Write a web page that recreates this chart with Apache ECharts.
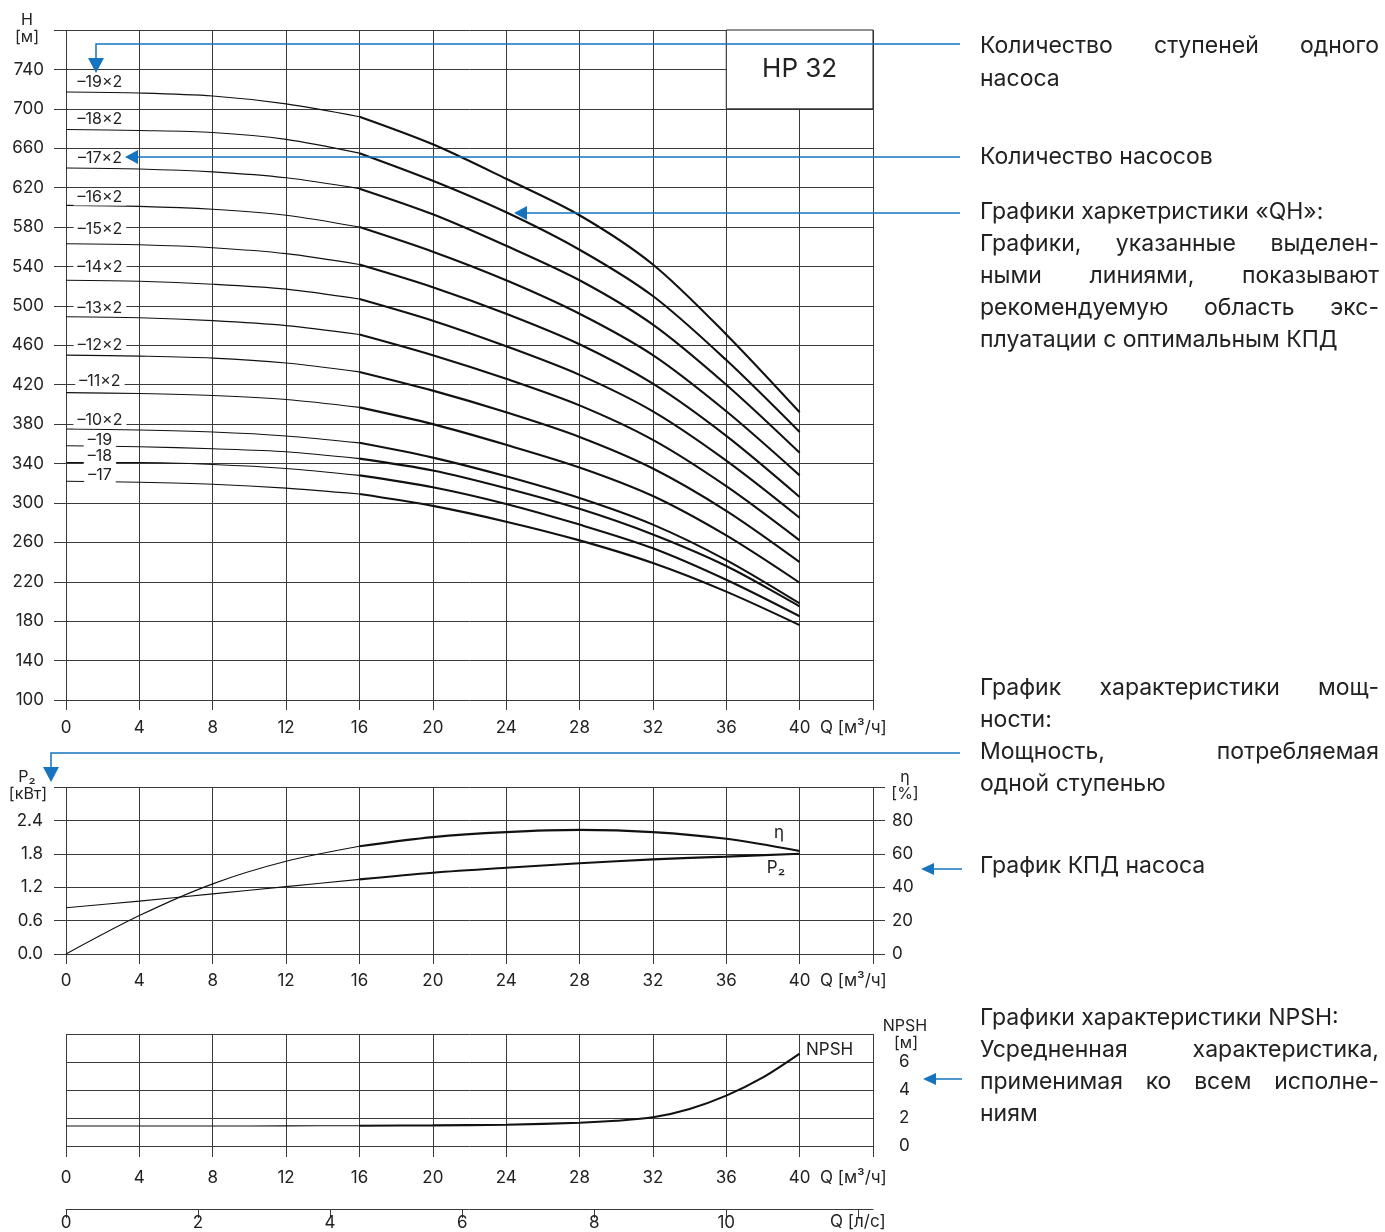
<!DOCTYPE html>
<html>
<head>
<meta charset="utf-8">
<script src="https://cdn.jsdelivr.net/npm/echarts@6/dist/echarts.min.js"></script>
<style>
  html, body { margin: 0; padding: 0; background: #fff; }
  #chart { width: 1385px; height: 1232px; }
</style>
</head>
<body>
<div id="chart"></div>
<script>
// flow points, m3/h
const flow = [0, 4, 8, 12, 16, 20, 24, 28, 32, 36, 40];

// QH curves, head in m (read from the sheet)
const head19x2 = [717, 716, 713, 705, 692, 664, 629, 592, 542, 471, 392];
const head18x2 = [679, 678, 676, 669, 655, 627, 595, 557, 510, 445, 372];
const head17x2 = [640, 639, 636, 630, 619, 593, 561, 526, 481, 420, 351];
const head16x2 = [602, 601, 598, 592, 580, 555, 526, 492, 450, 393, 328];
const head15x2 = [563, 562, 559, 553, 542, 519, 492, 461, 421, 368, 306];
const head14x2 = [526, 525, 522, 517, 507, 485, 459, 430, 393, 343, 285];
const head13x2 = [489, 488, 485, 480, 471, 450, 426, 399, 364, 317, 262];
const head12x2 = [450, 449, 447, 442, 433, 414, 392, 367, 335, 292, 240];
const head11x2 = [412, 411, 409, 405, 397, 380, 359, 336, 307, 267, 219];
const head10x2 = [375, 374, 372, 368, 361, 346, 327, 305, 278, 242, 198];
const head19 = [358, 357, 355, 352, 345, 333, 315, 294, 268, 236, 195];
const head18 = [341, 341, 339, 335, 328, 316, 299, 278, 254, 222, 185];
const head17 = [322, 321, 319, 315, 309, 297, 281, 262, 239, 210, 176];

const stageNames = ['–19×2', '–18×2', '–17×2', '–16×2', '–15×2', '–14×2', '–13×2',
                    '–12×2', '–11×2', '–10×2', '–19', '–18', '–17'];

// power per stage (kW) and efficiency (%)
const powerP2 = [0.83, 0.95, 1.08, 1.21, 1.34, 1.46, 1.55, 1.63, 1.70, 1.75, 1.80];
const efficiency = [0, 23, 42, 55.5, 64.5, 70, 73, 74.3, 73, 69, 61.7];

// NPSH (m)
const npshFlow = [0, 4, 8, 12, 16, 20, 24, 28, 30, 32, 34, 36, 38, 40];
const npshValues = [1.43, 1.43, 1.43, 1.44, 1.45, 1.47, 1.52, 1.66, 1.8, 2.05, 2.65, 3.6, 4.9, 6.6];

// where the stage labels sit (head value at Q = 1.85)
const stageLabelHead = [727, 689, 650, 610, 578, 539, 498, 460, 424, 384, 364, 347, 328];

const FONT = 'Inter, "Noto Sans", sans-serif';
const INK = '#222';
const GRID = '#3a3a3a';
const BLUE = '#1574bd';
const CURVE = '#111';

const chart = echarts.init(document.getElementById('chart'));

function flowAxis(gridIndex, margin, tickLen) {
    return {
        type: 'value', gridIndex: gridIndex, min: 0, max: 44, interval: 4,
        axisLine: { show: false, onZero: false },
        axisTick: { show: true, length: tickLen, lineStyle: { color: GRID, width: 1 } },
        axisLabel: {
            color: INK, fontFamily: FONT, fontSize: 17, margin: margin,
            formatter: v => (v > 40 ? '' : String(v))
        },
        splitLine: { show: true, lineStyle: { color: GRID, width: 1 } }
    };
}

function curve(xAxisIndex, yAxisIndex, xs, ys, width) {
    return {
        type: 'line', xAxisIndex: xAxisIndex, yAxisIndex: yAxisIndex,
        data: xs.map((x, i) => [x, ys[i]]),
        symbol: 'none', smooth: 0.3, silent: true, z: 3,
        lineStyle: { color: CURVE, width: width }
    };
}

// thin part up to 16 m3/h, bold working range after it
function splitCurve(xAxisIndex, yAxisIndex, xs, ys, cut) {
    const k = xs.indexOf(cut);
    return [
        curve(xAxisIndex, yAxisIndex, xs.slice(0, k + 1), ys.slice(0, k + 1), 1.1),
        curve(xAxisIndex, yAxisIndex, xs.slice(k), ys.slice(k), 2.1)
    ];
}

const headCurves = [head19x2, head18x2, head17x2, head16x2, head15x2, head14x2, head13x2,
                    head12x2, head11x2, head10x2, head19, head18, head17];

let series = [];
headCurves.forEach(h => { series = series.concat(splitCurve(0, 0, flow, h, 16)); });
series = series.concat(splitCurve(1, 1, flow, powerP2, 16));
series = series.concat(splitCurve(1, 2, flow, efficiency, 16));
series = series.concat(splitCurve(2, 3, npshFlow, npshValues, 16));

const option = {
    backgroundColor: '#fff',
    animation: false,
    textStyle: { fontFamily: FONT },
    grid: [
        { left: 66, top: 30, width: 807, height: 670 },
        { left: 66, top: 787, width: 807, height: 167 },
        { left: 66, top: 1034, width: 807, height: 112 },
        { left: 66, top: 1208, width: 807, height: 1 }
    ],
    xAxis: [
        flowAxis(0, 19, 10),
        flowAxis(1, 18, 10),
        flowAxis(2, 23, 11),
        {
            type: 'value', gridIndex: 3, min: 0, max: 44 / 3.6, interval: 2,
            axisLine: { show: true, onZero: false, lineStyle: { color: GRID, width: 1 } },
            axisTick: { show: true, length: 9, customValues: [0, 2, 4, 6, 8, 10, 12],
                        lineStyle: { color: GRID, width: 1 } },
            axisLabel: { color: INK, fontFamily: FONT, fontSize: 17, margin: 5,
                         customValues: [0, 2, 4, 6, 8, 10] },
            splitLine: { show: false }
        }
    ],
    yAxis: [
        {
            type: 'value', gridIndex: 0, min: 100, max: 780, interval: 40,
            axisLine: { show: false },
            axisTick: { show: true, length: 12, lineStyle: { color: GRID, width: 1 } },
            axisLabel: { color: INK, fontFamily: FONT, fontSize: 17, margin: 22,
                         formatter: v => (v > 740 ? '' : String(v)) },
            splitLine: { show: true, lineStyle: { color: GRID, width: 1 } }
        },
        {
            type: 'value', gridIndex: 1, min: 0, max: 3, interval: 0.6,
            axisLine: { show: false },
            axisTick: { show: true, length: 12, lineStyle: { color: GRID, width: 1 } },
            axisLabel: { color: INK, fontFamily: FONT, fontSize: 17, margin: 23,
                         formatter: v => (v > 2.5 ? '' : v.toFixed(1)) },
            splitLine: { show: true, lineStyle: { color: GRID, width: 1 } }
        },
        {
            type: 'value', gridIndex: 1, position: 'right', min: 0, max: 100, interval: 20,
            axisLine: { show: false },
            axisTick: { show: true, length: 12, lineStyle: { color: GRID, width: 1 } },
            axisLabel: { color: INK, fontFamily: FONT, fontSize: 17, margin: 19,
                         formatter: v => (v > 80 ? '' : String(v)) },
            splitLine: { show: false }
        },
        {
            type: 'value', gridIndex: 2, position: 'right', min: 0, max: 8, interval: 2,
            axisLine: { show: false },
            axisTick: { show: true, length: 12, lineStyle: { color: GRID, width: 1 } },
            axisLabel: { color: INK, fontFamily: FONT, fontSize: 17, margin: 26,
                         formatter: v => (v > 6 ? '' : String(v)) },
            splitLine: { show: true, lineStyle: { color: GRID, width: 1 } }
        },
        { type: 'value', gridIndex: 3, show: false, min: 0, max: 1 }
    ],
    series: series
};

chart.setOption(option);

// ---- annotations ----
const measureCtx = document.createElement('canvas').getContext('2d');

function txt(text, x, y, size, align, extra) {
    return Object.assign({
        type: 'text', x: x, y: y, z: 50, silent: true,
        style: { text: text, fill: INK, font: size + 'px ' + FONT, align: align || 'center', verticalAlign: 'middle' }
    }, extra || {});
}

// a line of the description; justified lines are spread to the right edge
function descLine(text, y, justify) {
    const size = 23;
    const font = size + 'px ' + FONT;
    if (!justify) return [txt(text, 980, y, size, 'left')];
    measureCtx.font = font;
    const words = text.split(' ');
    const widths = words.map(w => measureCtx.measureText(w).width);
    const total = widths.reduce((a, b) => a + b, 0);
    const gap = (1379 - 980 - total) / (words.length - 1);
    let x = 980;
    return words.map((w, i) => {
        const el = txt(w, x, y, size, 'left');
        x += widths[i] + gap;
        return el;
    });
}

function arrowLine(points) {
    return { type: 'polyline', z: 60, silent: true, shape: { points: points },
             style: { stroke: BLUE, lineWidth: 1.5, fill: null } };
}
function arrowHead(points) {
    return { type: 'polygon', z: 60, silent: true, shape: { points: points },
             style: { fill: BLUE, stroke: null } };
}

const graphics = [];

// HP 32 box covering the upper right grid cells
const boxA = chart.convertToPixel({ gridIndex: 0 }, [36, 780]);
const boxB = chart.convertToPixel({ gridIndex: 0 }, [44, 700]);
graphics.push({
    type: 'rect', z: 40, silent: true,
    shape: { x: boxA[0], y: boxA[1], width: boxB[0] - boxA[0], height: boxB[1] - boxA[1] },
    style: { fill: '#fff', stroke: '#222', lineWidth: 1 }
});
graphics.push(txt('HP 32', (boxA[0] + boxB[0]) / 2, (boxA[1] + boxB[1]) / 2, 26, 'center'));

// stage labels
stageNames.forEach((name, i) => {
    const p = chart.convertToPixel({ gridIndex: 0 }, [1.85, stageLabelHead[i]]);
    graphics.push({
        type: 'text', x: p[0], y: p[1], z: 45, silent: true,
        style: { text: name, fill: INK, font: '16px ' + FONT, align: 'center', verticalAlign: 'middle',
                 backgroundColor: '#fff', padding: [0, 4] }
    });
});

// axis titles
graphics.push(txt('H', 27, 20, 16));
graphics.push(txt('[м]', 27, 37, 16));
graphics.push(txt('P₂', 27, 777, 16));
graphics.push(txt('[кВт]', 28, 794, 16));
graphics.push(txt('η', 905, 777, 16));
graphics.push(txt('[%]', 905, 794, 16));
graphics.push(txt('NPSH', 905, 1026, 16));
graphics.push(txt('[м]', 906, 1043, 16));
graphics.push(txt('Q [м³/ч]', 820, 728, 17, 'left'));
graphics.push(txt('Q [м³/ч]', 820, 981, 17, 'left'));
graphics.push(txt('Q [м³/ч]', 820, 1178, 17, 'left'));
graphics.push(txt('Q [л/с]', 830, 1222, 17, 'left'));

// curve names
graphics.push(txt('η', 779, 833, 17));
graphics.push(txt('P₂', 776, 868, 17));
graphics.push(txt('NPSH', 806, 1050, 17, 'left'));

// blue callouts
graphics.push(arrowLine([[960, 44], [96, 44], [96, 58]]));
graphics.push(arrowHead([[88, 58], [104, 58], [96, 73]]));
graphics.push(arrowLine([[960, 157], [137, 157]]));
graphics.push(arrowHead([[125, 157], [138, 150], [138, 164]]));
graphics.push(arrowLine([[960, 213], [526, 213]]));
graphics.push(arrowHead([[514, 213], [527, 206], [527, 220]]));
graphics.push(arrowLine([[960, 753], [51, 753], [51, 767]]));
graphics.push(arrowHead([[43, 767], [59, 767], [51, 782]]));
graphics.push(arrowLine([[962, 869], [932, 869]]));
graphics.push(arrowHead([[921, 869], [934, 863], [934, 875]]));
graphics.push(arrowLine([[962, 1079], [934, 1079]]));
graphics.push(arrowHead([[923, 1079], [936, 1073], [936, 1085]]));

// description text
const desc = [
    ['Количество ступеней одного', 46, true],
    ['насоса', 79, false],
    ['Количество насосов', 157, false],
    ['Графики харкетристики «QН»:', 212, false],
    ['Графики, указанные выделен-', 244, true],
    ['ными линиями, показывают', 276, true],
    ['рекомендуемую область экс-', 308, true],
    ['плуатации с оптимальным КПД', 340, false],
    ['График характеристики мощ-', 688, true],
    ['ности:', 720, false],
    ['Мощность, потребляемая', 752, true],
    ['одной ступенью', 784, false],
    ['График КПД насоса', 866, false],
    ['Графики характеристики NPSH:', 1018, false],
    ['Усредненная характеристика,', 1050, true],
    ['применимая ко всем исполне-', 1082, true],
    ['ниям', 1114, false]
];
desc.forEach(d => { descLine(d[0], d[1], d[2]).forEach(g => graphics.push(g)); });

chart.setOption({ graphic: graphics });
</script>
</body>
</html>
